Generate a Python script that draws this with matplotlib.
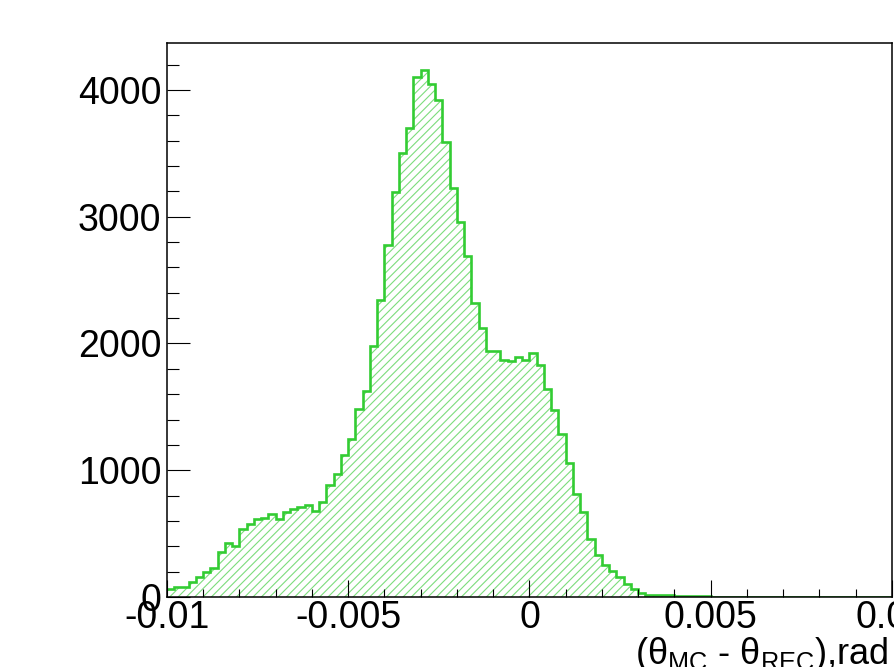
"""Theta resolution histogram (MC - REC), ROOT-like style."""

import numpy as np
import matplotlib
matplotlib.use("Agg")
import matplotlib.pyplot as plt
from matplotlib.ticker import MultipleLocator

# bin edges: 100 bins from -0.01 to 0.01
x_min = -0.01
x_max = 0.01
n_bins = 100

# bin contents
counts = [
    65, 78, 80, 115, 155, 200, 232, 357, 428, 402,
    538, 572, 619, 627, 654, 614, 672, 693, 706, 724,
    680, 751, 882, 970, 1118, 1244, 1480, 1625, 1979, 2346,
    2780, 3197, 3506, 3696, 4102, 4155, 4045, 3921, 3593, 3226,
    2961, 2693, 2318, 2120, 1940, 1940, 1866, 1862, 1892, 1871,
    1924, 1827, 1643, 1475, 1283, 1058, 813, 670, 454, 330,
    250, 207, 155, 100, 61, 34, 18, 13, 18, 13,
    8, 6, 5, 5, 4, 3, 3, 2, 2, 2,
    2, 2, 1, 1, 1, 1, 1, 1, 1, 1,
    1, 1, 1, 1, 1, 1, 1, 1, 1, 1,
]

x_ticks = [-0.01, -0.005, 0, 0.005, 0.01]
x_tick_labels = ["-0.01", "-0.005", "0", "0.005", "0.01"]
y_ticks = [0, 1000, 2000, 3000, 4000]
y_max = 4370

line_color = "#33cc33"
hatch_color = "#7ddc7d"

plt.rcParams["font.family"] = ["Liberation Sans", "DejaVu Sans"]
plt.rcParams["mathtext.fontset"] = "custom"
plt.rcParams["mathtext.rm"] = "Liberation Sans"
plt.rcParams["mathtext.it"] = "Liberation Sans:italic"
plt.rcParams["hatch.linewidth"] = 0.8

edges = np.linspace(x_min, x_max, n_bins + 1)
values = np.array(counts, dtype=float)

fig = plt.figure(figsize=(8.95, 6.67), dpi=100)
ax = fig.add_axes([167 / 895, 70 / 667, 725 / 895, 554 / 667])

# hatched fill, then the outline on top
ax.stairs(values, edges, fill=True, facecolor="none", edgecolor=hatch_color,
          hatch="////", linewidth=0)
ax.stairs(values, edges, baseline=None, color=line_color, linewidth=1.9)

ax.set_xlim(x_min, x_max)
ax.set_ylim(0, y_max)

ax.set_xticks(x_ticks)
ax.set_xticklabels(x_tick_labels)
ax.xaxis.set_minor_locator(MultipleLocator(0.001))
ax.set_yticks(y_ticks)
ax.yaxis.set_minor_locator(MultipleLocator(200))

ax.tick_params(axis="x", which="major", direction="in", length=12.5, width=0.8,
               labelsize=27, pad=2, top=False)
ax.tick_params(axis="x", which="minor", direction="in", length=6, width=0.8, top=False)
ax.tick_params(axis="y", which="major", direction="in", length=16.5, width=0.8,
               labelsize=27, pad=4, right=False)
ax.tick_params(axis="y", which="minor", direction="in", length=8.5, width=0.8, right=False)

for side in ax.spines.values():
    side.set_linewidth(1.1)

fig.text(889 / 895, 3 / 667, r"(θ$_{\mathrm{MC}}$ - θ$_{\mathrm{REC}}$),rad",
         ha="right", va="baseline", fontsize=26)

fig.savefig("out.png", dpi=100)
plt.close(fig)
